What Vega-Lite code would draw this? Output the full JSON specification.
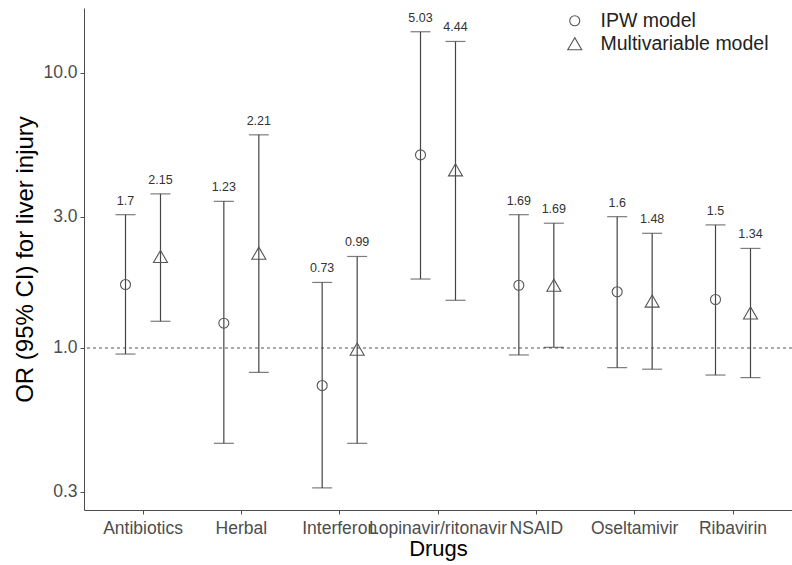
{
  "$schema": "https://vega.github.io/schema/vega-lite/v6.json",
  "width": 708,
  "height": 502,
  "autosize": {"type": "none"},
  "padding": {"left": 84, "top": 8, "right": 0, "bottom": 55},
  "config": {
    "view": {"stroke": null},
    "font": "Liberation Sans",
    "axis": {
      "grid": false,
      "domainColor": "#4d4d4d",
      "tickColor": "#4d4d4d",
      "labelColor": "#4d4d4d",
      "labelFontSize": 17.5,
      "titleColor": "#000000",
      "titleFontSize": 22,
      "titleFontWeight": "normal",
      "tickSize": 4
    },
    "legend": {
      "orient": "none",
      "legendX": 481,
      "legendY": 3,
      "labelFontSize": 19.5,
      "labelColor": "#222222",
      "labelLimit": 0,
      "symbolStrokeColor": "#555555",
      "symbolStrokeWidth": 1.1,
      "rowPadding": 2,
      "labelOffset": 16
    }
  },
  "datasets": {
    "est": [
      {"drug": "Antibiotics", "model": "IPW model", "or": 1.70, "lower": 0.95, "upper": 3.05, "lab": "1.7"},
      {"drug": "Antibiotics", "model": "Multivariable model", "or": 2.15, "lower": 1.25, "upper": 3.63, "lab": "2.15"},
      {"drug": "Herbal", "model": "IPW model", "or": 1.23, "lower": 0.45, "upper": 3.41, "lab": "1.23"},
      {"drug": "Herbal", "model": "Multivariable model", "or": 2.21, "lower": 0.815, "upper": 5.95, "lab": "2.21"},
      {"drug": "Interferon", "model": "IPW model", "or": 0.73, "lower": 0.31, "upper": 1.73, "lab": "0.73"},
      {"drug": "Interferon", "model": "Multivariable model", "or": 0.99, "lower": 0.45, "upper": 2.15, "lab": "0.99"},
      {"drug": "Lopinavir/ritonavir", "model": "IPW model", "or": 5.03, "lower": 1.78, "upper": 14.1, "lab": "5.03"},
      {"drug": "Lopinavir/ritonavir", "model": "Multivariable model", "or": 4.44, "lower": 1.49, "upper": 13.0, "lab": "4.44"},
      {"drug": "NSAID", "model": "IPW model", "or": 1.69, "lower": 0.943, "upper": 3.05, "lab": "1.69"},
      {"drug": "NSAID", "model": "Multivariable model", "or": 1.69, "lower": 1.005, "upper": 2.84, "lab": "1.69"},
      {"drug": "Oseltamivir", "model": "IPW model", "or": 1.60, "lower": 0.848, "upper": 3.0, "lab": "1.6"},
      {"drug": "Oseltamivir", "model": "Multivariable model", "or": 1.48, "lower": 0.837, "upper": 2.61, "lab": "1.48"},
      {"drug": "Ribavirin", "model": "IPW model", "or": 1.50, "lower": 0.797, "upper": 2.80, "lab": "1.5"},
      {"drug": "Ribavirin", "model": "Multivariable model", "or": 1.34, "lower": 0.78, "upper": 2.30, "lab": "1.34"}
    ],
    "ref": [{"ref": 1}]
  },
  "layer": [
    {
      "data": {"name": "ref"},
      "mark": {"type": "rule", "strokeDash": [3, 3], "color": "#555555", "strokeWidth": 1.1},
      "encoding": {
        "y": {"field": "ref", "type": "quantitative", "scale": {"type": "log", "domain": [0.2576, 17.2], "nice": false, "zero": false}}
      }
    },
    {
      "data": {"name": "est"},
      "encoding": {
        "x": {
          "field": "drug", "type": "nominal",
          "scale": {"paddingInner": 0, "paddingOuter": 0.1},
          "axis": {"title": "Drugs", "labelAngle": 0, "labelOverlap": false, "labelBound": false, "labelLimit": 0, "labelPadding": 5, "titlePadding": 2}
        },
        "xOffset": {"field": "model", "type": "nominal", "scale": {"paddingInner": 0, "paddingOuter": 0.405}}
      },
      "layer": [
        {
          "mark": {"type": "rule", "color": "#444444", "strokeWidth": 1.2},
          "encoding": {
            "y": {
              "field": "lower", "type": "quantitative",
              "scale": {"type": "log", "domain": [0.2576, 17.2], "nice": false, "zero": false},
              "axis": {"title": "OR (95% CI) for liver injury", "titleFontSize": 24, "values": [0.3, 1, 3, 10], "format": ".1f", "labelPadding": 3, "titlePadding": 5}
            },
            "y2": {"field": "upper"}
          }
        },
        {
          "mark": {"type": "tick", "color": "#444444", "thickness": 1.2, "size": 20, "orient": "horizontal"},
          "encoding": {"y": {"field": "lower", "type": "quantitative"}}
        },
        {
          "mark": {"type": "tick", "color": "#444444", "thickness": 1.2, "size": 20, "orient": "horizontal"},
          "encoding": {"y": {"field": "upper", "type": "quantitative"}}
        },
        {
          "mark": {"type": "point", "filled": false, "stroke": "#555555", "strokeWidth": 1.1, "opacity": 1},
          "encoding": {
            "y": {"field": "or", "type": "quantitative"},
            "shape": {"field": "model", "type": "nominal", "scale": {"range": ["circle", "triangle-up"]}, "legend": {"title": null}},
            "size": {"field": "model", "type": "nominal", "scale": {"range": [100, 196]}, "legend": {"title": null}}
          }
        },
        {
          "mark": {"type": "text", "baseline": "bottom", "dy": -7, "fontSize": 12.5, "color": "#333333"},
          "encoding": {
            "y": {"field": "upper", "type": "quantitative"},
            "text": {"field": "lab", "type": "nominal"}
          }
        }
      ]
    }
  ]
}
